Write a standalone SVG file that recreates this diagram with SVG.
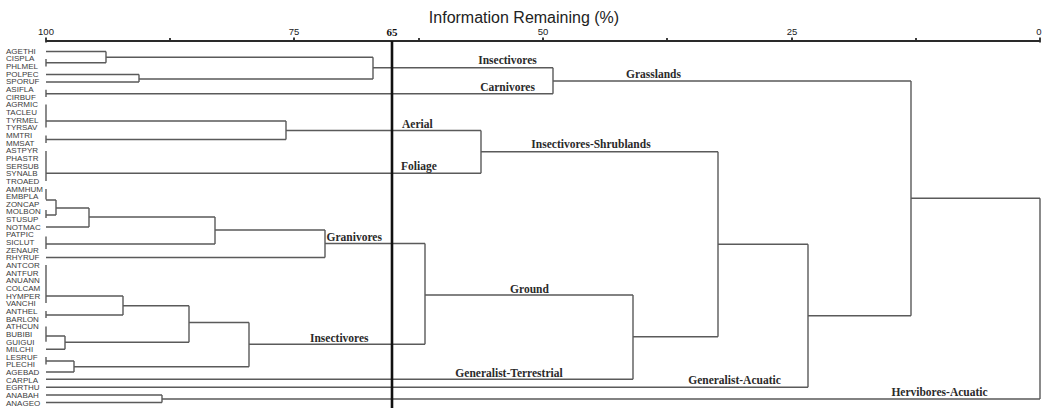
<svg xmlns="http://www.w3.org/2000/svg" width="1044" height="408" viewBox="0 0 1044 408">
<style>
.leaf{font-family:"Liberation Sans",Arial,sans-serif;font-size:8px;fill:#3c3c3c}
.tick{font-family:"Liberation Sans",Arial,sans-serif;font-size:9.5px;fill:#222;text-anchor:middle}
.title{font-family:"Liberation Sans",Arial,sans-serif;font-size:16px;fill:#222;text-anchor:middle}
.grp{font-family:"Liberation Serif","Times New Roman",serif;font-size:11.5px;font-weight:bold;fill:#2a2a2a}
.ln{fill:none;stroke:#5a5a5a;stroke-width:1.4}
.axis{fill:none;stroke:#2a2a2a;stroke-width:1.8}
</style>
<rect width="1044" height="408" fill="#fff"/>
<g id="axis">
<text class="title" x="524" y="22.5">Information Remaining (%)</text>
<path class="axis" d="M46 41H1040M46 37.5V42.5M170 38V41M294 37.5V41M419 38V41M543 37.5V41M667 38V41M792 37.5V41M916 38V41M1040 37.5V42.5"/>
<text class="tick" x="46" y="35">100</text>
<text class="tick" x="294" y="35">75</text>
<text class="tick" x="543" y="35">50</text>
<text class="tick" x="792" y="35">25</text>
<text class="tick" x="1039" y="35">0</text>
<text x="392" y="35.5" style="font-family:'Liberation Serif',serif;font-size:11px;font-weight:bold;fill:#111;text-anchor:middle">65</text>
</g>
<g id="leaves">
<g id="leaf-AGETHI"><text class="leaf" x="6" y="53.8">AGETHI</text></g>
<g id="leaf-CISPLA"><text class="leaf" x="6" y="61.45">CISPLA</text></g>
<g id="leaf-PHLMEL"><text class="leaf" x="6" y="69.1">PHLMEL</text></g>
<g id="leaf-POLPEC"><text class="leaf" x="6" y="76.75">POLPEC</text></g>
<g id="leaf-SPORUF"><text class="leaf" x="6" y="84.4">SPORUF</text></g>
<g id="leaf-ASIFLA"><text class="leaf" x="6" y="92.05">ASIFLA</text></g>
<g id="leaf-CIRBUF"><text class="leaf" x="6" y="99.7">CIRBUF</text></g>
<g id="leaf-AGRMIC"><text class="leaf" x="6" y="107.35">AGRMIC</text></g>
<g id="leaf-TACLEU"><text class="leaf" x="6" y="115">TACLEU</text></g>
<g id="leaf-TYRMEL"><text class="leaf" x="6" y="122.65">TYRMEL</text></g>
<g id="leaf-TYRSAV"><text class="leaf" x="6" y="130.3">TYRSAV</text></g>
<g id="leaf-MMTRI"><text class="leaf" x="6" y="137.95">MMTRI</text></g>
<g id="leaf-MMSAT"><text class="leaf" x="6" y="145.6">MMSAT</text></g>
<g id="leaf-ASTPYR"><text class="leaf" x="6" y="153.25">ASTPYR</text></g>
<g id="leaf-PHASTR"><text class="leaf" x="6" y="160.9">PHASTR</text></g>
<g id="leaf-SERSUB"><text class="leaf" x="6" y="168.55">SERSUB</text></g>
<g id="leaf-SYNALB"><text class="leaf" x="6" y="176.2">SYNALB</text></g>
<g id="leaf-TROAED"><text class="leaf" x="6" y="183.85">TROAED</text></g>
<g id="leaf-AMMHUM"><text class="leaf" x="6" y="191.5">AMMHUM</text></g>
<g id="leaf-EMBPLA"><text class="leaf" x="6" y="199.15">EMBPLA</text></g>
<g id="leaf-ZONCAP"><text class="leaf" x="6" y="206.8">ZONCAP</text></g>
<g id="leaf-MOLBON"><text class="leaf" x="6" y="214.45">MOLBON</text></g>
<g id="leaf-STUSUP"><text class="leaf" x="6" y="222.1">STUSUP</text></g>
<g id="leaf-NOTMAC"><text class="leaf" x="6" y="229.75">NOTMAC</text></g>
<g id="leaf-PATPIC"><text class="leaf" x="6" y="237.4">PATPIC</text></g>
<g id="leaf-SICLUT"><text class="leaf" x="6" y="245.05">SICLUT</text></g>
<g id="leaf-ZENAUR"><text class="leaf" x="6" y="252.7">ZENAUR</text></g>
<g id="leaf-RHYRUF"><text class="leaf" x="6" y="260.35">RHYRUF</text></g>
<g id="leaf-ANTCOR"><text class="leaf" x="6" y="268">ANTCOR</text></g>
<g id="leaf-ANTFUR"><text class="leaf" x="6" y="275.65">ANTFUR</text></g>
<g id="leaf-ANUANN"><text class="leaf" x="6" y="283.3">ANUANN</text></g>
<g id="leaf-COLCAM"><text class="leaf" x="6" y="290.95">COLCAM</text></g>
<g id="leaf-HYMPER"><text class="leaf" x="6" y="298.6">HYMPER</text></g>
<g id="leaf-VANCHI"><text class="leaf" x="6" y="306.25">VANCHI</text></g>
<g id="leaf-ANTHEL"><text class="leaf" x="6" y="313.9">ANTHEL</text></g>
<g id="leaf-BARLON"><text class="leaf" x="6" y="321.55">BARLON</text></g>
<g id="leaf-ATHCUN"><text class="leaf" x="6" y="329.2">ATHCUN</text></g>
<g id="leaf-BUBIBI"><text class="leaf" x="6" y="336.85">BUBIBI</text></g>
<g id="leaf-GUIGUI"><text class="leaf" x="6" y="344.5">GUIGUI</text></g>
<g id="leaf-MILCHI"><text class="leaf" x="6" y="352.15">MILCHI</text></g>
<g id="leaf-LESRUF"><text class="leaf" x="6" y="359.8">LESRUF</text></g>
<g id="leaf-PLECHI"><text class="leaf" x="6" y="367.45">PLECHI</text></g>
<g id="leaf-AGEBAD"><text class="leaf" x="6" y="375.1">AGEBAD</text></g>
<g id="leaf-CARPLA"><text class="leaf" x="6" y="382.75">CARPLA</text></g>
<g id="leaf-EGRTHU"><text class="leaf" x="6" y="390.4">EGRTHU</text></g>
<g id="leaf-ANABAH"><text class="leaf" x="6" y="398.05">ANABAH</text></g>
<g id="leaf-ANAGEO"><text class="leaf" x="6" y="405.7">ANAGEO</text></g>
</g>
<g id="connectors">
<path class="ln" d="M46 51.5H106M46 59V66.5M46 62.7H106M106 51.5V62.7M106 57.3H373"/>
<path class="ln" d="M46 74.5H139M46 82H139M139 74.5V82M139 79H373M373 57.3V79M373 67.7H553"/>
<path class="ln" d="M46 89.7V97M46 93.7H553M553 67.7V93.7M553 81H911"/>
<path class="ln" d="M46 104.5V127.5M46 121H286M46 135.5V143M46 139.5H286M286 121V139.5M286 130.5H481"/>
<path class="ln" d="M46 151V181M46 173.3H481M481 130.5V173.3M481 151.7H718"/>
<path class="ln" d="M46 189V199.5M46 200H56M46 210V218M46 215H56M56 200V215M56 208H89M46 227H89M89 208V227M89 217H215"/>
<path class="ln" d="M46 236.5V249M46 244H215M215 217V244M215 230H325M46 257.5H325M325 230V257.5M325 243.5H425"/>
<path class="ln" d="M46 265V303M46 296H123M46 311V318M46 315H123M123 296V315M123 305.7H189"/>
<path class="ln" d="M46 326.5V341.7M46 336H65M46 349.3H65M65 336V349.3M65 342.3H189M189 305.7V342.3M189 322.5H249"/>
<path class="ln" d="M46 357V364.5M46 361H74M46 372H74M74 361V372M74 366.7H249M249 322.5V366.7M249 344.3H425"/>
<path class="ln" d="M425 243.5V344.3M425 295H633M46 379.3H633M633 295V379.3M633 336.7H718M718 151.7V336.7M718 244.3H808"/>
<path class="ln" d="M46 387.3H808M808 244.3V387.3M808 315.7H911M911 81V315.7M911 198.3H1040"/>
<path class="ln" d="M46 395H162M46 402.5H162M162 395V402.5M162 399H1040M1040 198.3V399"/>
</g>
<g id="cut-65"><path d="M392 41V408" stroke="#111" stroke-width="2.6" fill="none"/></g>
<g id="groups">
<g id="grp-insectivores-top"><text class="grp" x="507.5" y="64" text-anchor="middle">Insectivores</text></g>
<g id="grp-carnivores"><text class="grp" x="507.5" y="90.5" text-anchor="middle">Carnivores</text></g>
<g id="grp-grasslands"><text class="grp" x="653.5" y="78.3" text-anchor="middle">Grasslands</text></g>
<g id="grp-aerial"><text class="grp" x="402" y="128.3">Aerial</text></g>
<g id="grp-foliage"><text class="grp" x="401" y="169.5">Foliage</text></g>
<g id="grp-insectivores-shrublands"><text class="grp" x="591" y="148.3" text-anchor="middle">Insectivores-Shrublands</text></g>
<g id="grp-granivores"><text class="grp" x="326.5" y="240.7">Granivores</text></g>
<g id="grp-ground"><text class="grp" x="529.5" y="292.7" text-anchor="middle">Ground</text></g>
<g id="grp-insectivores-low"><text class="grp" x="310" y="341.5">Insectivores</text></g>
<g id="grp-generalist-terrestrial"><text class="grp" x="509" y="376.7" text-anchor="middle">Generalist-Terrestrial</text></g>
<g id="grp-generalist-acuatic"><text class="grp" x="734.5" y="384.3" text-anchor="middle">Generalist-Acuatic</text></g>
<g id="grp-hervibores-acuatic"><text class="grp" x="939.5" y="396" text-anchor="middle">Hervibores-Acuatic</text></g>
</g>
</svg>
